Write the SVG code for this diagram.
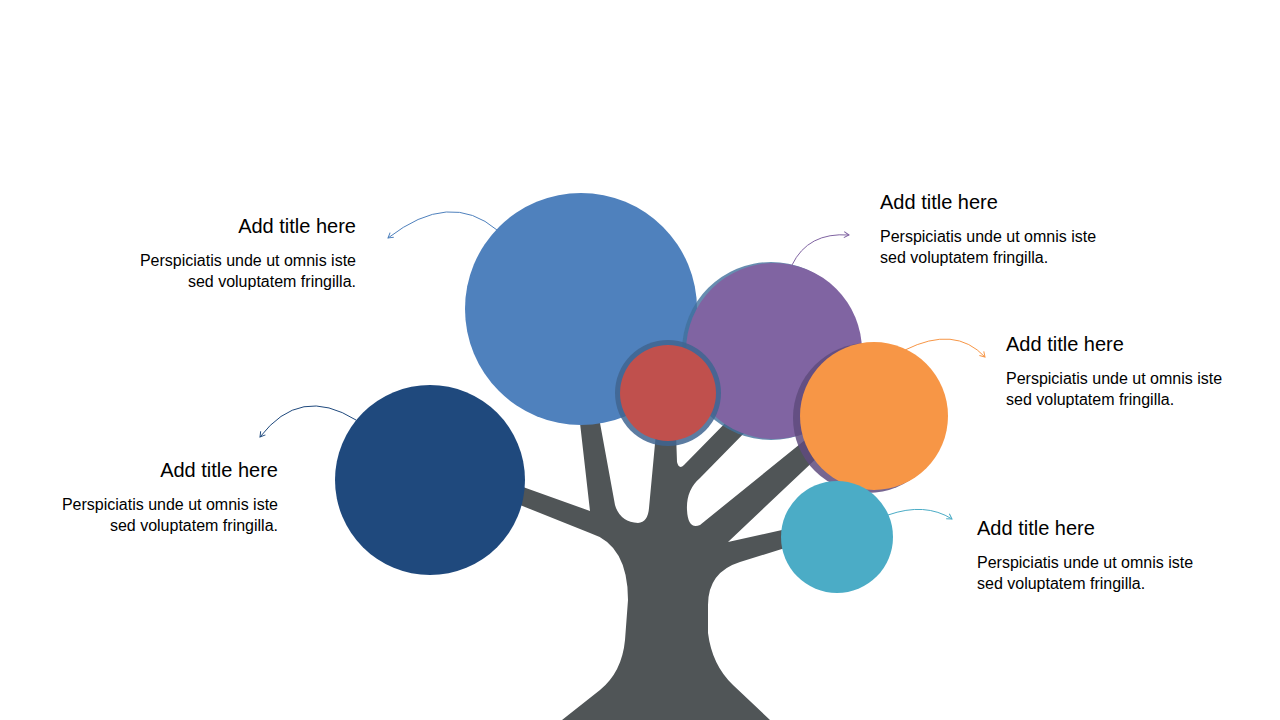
<svg xmlns="http://www.w3.org/2000/svg" width="1280" height="720" viewBox="0 0 1280 720">
<style>
.t{font-family:"Liberation Sans",Arial,sans-serif;font-size:20px;fill:#000}
.b{font-family:"Liberation Sans",Arial,sans-serif;font-size:16px;fill:#000}
.c{fill:none;stroke-width:1}
</style>
<defs>
<marker id="m1" markerWidth="8" markerHeight="8" refX="6" refY="4" orient="auto" markerUnits="userSpaceOnUse"><path d="M1,1 L6,4 L1,7" fill="none" stroke="context-stroke" stroke-width="1"/></marker>
</defs>
<rect width="1280" height="720" fill="#fff"/>
<g id="tree"><path fill="#505557" d="M562,720 L600,690 Q622,672 625,640 L628,600 Q628,545 590,533 L520,505 L523,487 L590,511 L580,423 L600,423 L615,505 Q620,522 638,523 Q648,522 649,508 L656,433 L676,433 L677,462 Q679,470 684,465 L738,410 L752,425 L700,478 Q686,490 687,510 Q688,530 700,525 L805,440 L820,455 L728,542 L782,530 L785,548 L740,562 Q708,572 708,605 L708,633 Q712,665 733,685 L770,720 Z"/></g>
<g id="n1"><circle cx="581" cy="309" r="116" fill="#4f81bd"/></g>
<g id="n2"><circle cx="430" cy="480" r="95" fill="#1f497d"/></g>
<g id="n3"><circle cx="771" cy="351" r="89" fill="#41719c" opacity="0.8"/><circle cx="774" cy="351" r="88" fill="#8064a2"/></g>
<g id="n4"><circle cx="668" cy="393" r="53" fill="#3f6590" opacity="0.85"/><circle cx="668" cy="393" r="48" fill="#c0504d"/></g>
<g id="n5"><circle cx="868" cy="418" r="75" fill="#5f4b7e" opacity="0.85"/><circle cx="874" cy="416" r="74" fill="#f79646"/></g>
<g id="n6"><circle cx="837" cy="537" r="56" fill="#4bacc6"/></g>
<g id="connectors">
<path class="c" stroke="#4f81bd" d="M497,230 Q450,190 388,238" marker-end="url(#m1)"/>
<path class="c" stroke="#1f497d" d="M356,420 Q300,385 260,437" marker-end="url(#m1)"/>
<path class="c" stroke="#8064a2" d="M792,265 Q808,232 849,235" marker-end="url(#m1)"/>
<path class="c" stroke="#f79646" d="M905,350 Q955,325 985,357" marker-end="url(#m1)"/>
<path class="c" stroke="#4bacc6" d="M888,515 Q925,502 952,519" marker-end="url(#m1)"/>
</g>
<g id="l1" text-anchor="end"><text class="t" x="356" y="233">Add  title here</text><text class="b" x="356" y="266">Perspiciatis unde  ut  omnis iste</text><text class="b" x="356" y="287">sed voluptatem  fringilla.</text></g>
<g id="l2" text-anchor="end"><text class="t" x="278" y="477">Add  title here</text><text class="b" x="278" y="510">Perspiciatis unde  ut  omnis iste</text><text class="b" x="278" y="531">sed voluptatem  fringilla.</text></g>
<g id="l3"><text class="t" x="880" y="209">Add  title here</text><text class="b" x="880" y="242">Perspiciatis unde  ut  omnis iste</text><text class="b" x="880" y="263">sed voluptatem  fringilla.</text></g>
<g id="l4"><text class="t" x="1006" y="351">Add  title here</text><text class="b" x="1006" y="384">Perspiciatis unde  ut  omnis iste</text><text class="b" x="1006" y="405">sed voluptatem  fringilla.</text></g>
<g id="l5"><text class="t" x="977" y="535">Add  title here</text><text class="b" x="977" y="568">Perspiciatis unde  ut  omnis iste</text><text class="b" x="977" y="589">sed voluptatem  fringilla.</text></g>
</svg>
